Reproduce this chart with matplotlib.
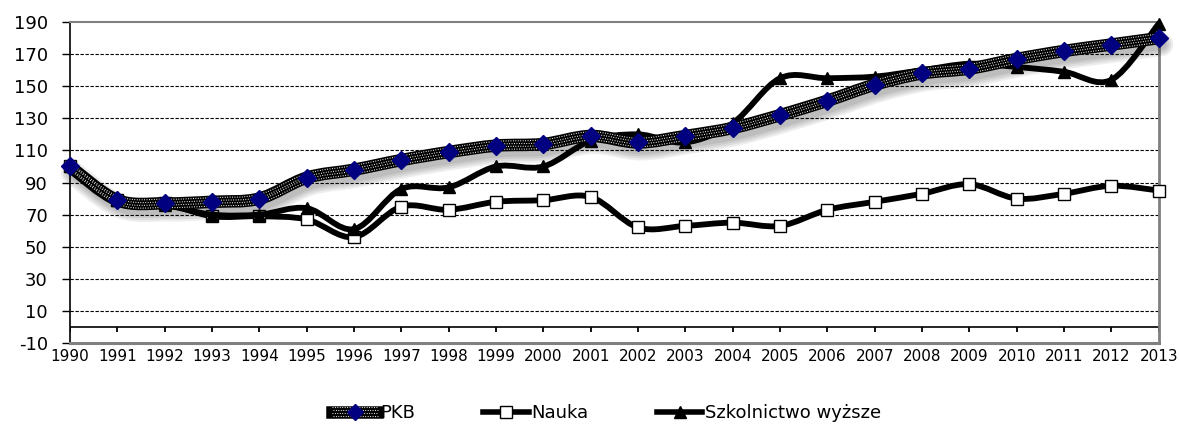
import numpy as np
import matplotlib
matplotlib.use("Agg")
import matplotlib.pyplot as plt
from matplotlib.path import Path
from matplotlib.patches import PathPatch
from matplotlib.lines import Line2D
from matplotlib.legend_handler import HandlerTuple
import matplotlib.patheffects as pe

years = list(range(1990, 2014))
pkb = [100, 79, 77, 78, 80, 93, 98, 104, 109, 113, 114, 119, 115, 119, 124, 132,
       141, 151, 158, 161, 167, 172, 176, 180]
nauka = [100, 79, 77, 69, 69, 67, 56, 75, 73, 78, 79, 81, 62, 63, 65, 63,
         73, 78, 83, 89, 80, 83, 88, 85]
szkol = [100, 79, 76, 70, 70, 74, 61, 86, 87, 100, 100, 116, 120, 115, 127, 155,
         155, 156, 160, 164, 162, 159, 154, 189]
labels = ["PKB", "Nauka", "Szkolnictwo wyższe"]

plt.rcParams['font.family'] = ['DejaVu Sans']
plt.rcParams['axes.unicode_minus'] = False


def smooth_path(x, y):
    # excel-like smoothed line: cubic bezier through every point
    p = np.column_stack([x, y]).astype(float)
    n = len(p)
    verts = [p[0]]
    codes = [Path.MOVETO]
    for i in range(n - 1):
        p0 = p[max(i - 1, 0)]
        p1 = p[i]
        p2 = p[i + 1]
        p3 = p[min(i + 2, n - 1)]
        verts += [p1 + (p2 - p0) / 6, p2 - (p3 - p1) / 6, p2]
        codes += [Path.CURVE4] * 3
    return Path(verts, codes)


fig = plt.figure(figsize=(11.8, 4.24), dpi=100)
ax = fig.add_axes([0.0593, 0.191, 0.9227, 0.757])

# grid
for v in range(10, 190, 20):
    ax.axhline(v, color='black', lw=0.8, ls=(0, (3, 1.5)), zorder=1)
ax.axhline(0, color='black', lw=1.2, zorder=1)
ax.vlines(years, -3, 0, color='black', lw=1.3, zorder=1)

# Nauka
ax.add_patch(PathPatch(smooth_path(years, nauka), fill=False, edgecolor='black', lw=4.2,
                       capstyle='round', zorder=3, clip_on=False))
ax.plot(years, nauka, ls='none', marker='s', ms=8, mfc='white', mec='black', mew=1,
        zorder=4, clip_on=False)

# Szkolnictwo wyzsze
ax.add_patch(PathPatch(smooth_path(years, szkol), fill=False, edgecolor='black', lw=4.2,
                       capstyle='round', zorder=5, clip_on=False))
ax.plot(years, szkol, ls='none', marker='^', ms=8, color='black', zorder=6, clip_on=False)

# PKB band with soft shadow and dotted fill
shadow = [pe.SimpleLineShadow(offset=(2, -4.5), shadow_color='#000000', alpha=0.07, rho=1, linewidth=w)
          for w in (17, 14, 11, 8)]
band = PathPatch(smooth_path(years, pkb), fill=False, edgecolor='black', lw=9,
                 capstyle='round', joinstyle='round', zorder=7, clip_on=False,
                 path_effects=shadow + [pe.Normal()])
ax.add_patch(band)
dots_fx = [pe.Stroke(offset=(0, 3.0)), pe.Stroke(offset=(0.8, 1.0)),
           pe.Stroke(offset=(0, -1.0)), pe.Stroke(offset=(0.8, -3.0))]
dots = PathPatch(smooth_path(years, pkb), fill=False, edgecolor='white', lw=0.8,
                 ls=(0, (0.8, 1.4)), zorder=8, clip_on=False, path_effects=dots_fx)
ax.add_patch(dots)
ax.plot(years, pkb, ls='none', marker='D', ms=9, color='#000080', mec='#000080',
        zorder=9, clip_on=False)

ax.set_xlim(years[0], years[-1])
ax.set_ylim(-10, 190)
ax.set_yticks(range(-10, 191, 20))
ax.set_xticks(years)
ax.set_xticklabels([str(y) for y in years])
ax.tick_params(axis='x', length=0, pad=4, labelsize=11)
ax.tick_params(axis='y', length=6, width=1, pad=10, labelsize=13)

for s in ('top', 'right', 'bottom'):
    ax.spines[s].set_color('#808080')
ax.spines['top'].set_linewidth(1.5)
ax.spines['right'].set_linewidth(2)
ax.spines['bottom'].set_linewidth(2.2)
ax.spines['left'].set_color('black')
ax.spines['left'].set_linewidth(1.2)
for s in ax.spines.values():
    s.set_zorder(2)

# legend
h_pkb = (Line2D([], [], color='black', lw=9),
         Line2D([], [], color='white', lw=0.8, ls=(0, (0.8, 1.4)), path_effects=dots_fx),
         Line2D([], [], ls='none', marker='D', ms=8, color='#000080'))
h_nauka = Line2D([], [], color='black', lw=4, marker='s', ms=9, mfc='white', mec='black')
h_szkol = Line2D([], [], color='black', lw=4, marker='^', ms=9)
fig.legend([h_pkb, h_nauka, h_szkol], labels, loc='center', bbox_to_anchor=(0.514, 0.026),
           ncol=3, frameon=False, fontsize=13, handlelength=2.5, handletextpad=0.15,
           columnspacing=3.8, handler_map={tuple: HandlerTuple(ndivide=1)})

fig.savefig("out.png", dpi=100)
